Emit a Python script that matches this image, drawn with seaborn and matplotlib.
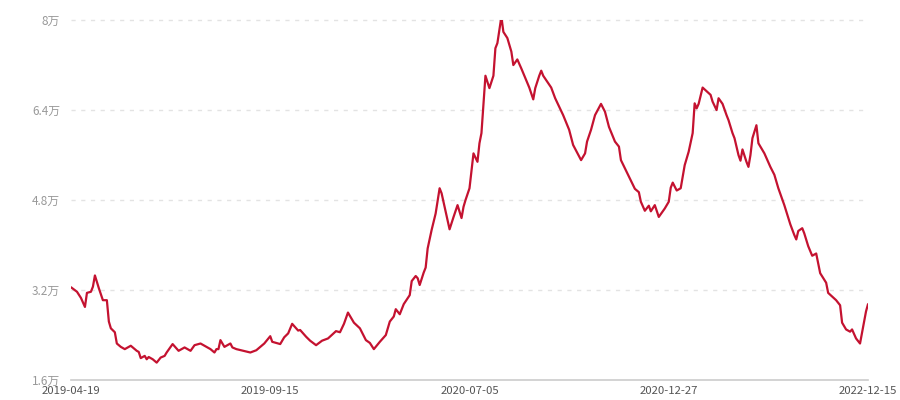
import pandas as pd
import matplotlib
matplotlib.use("Agg")
import matplotlib.pyplot as plt
from matplotlib.ticker import FuncFormatter
import seaborn as sns

# category index of each point (axis runs 0..400) and value in 万
idx = [0, 3, 5, 7, 8, 10, 11, 12, 14, 16, 18, 19, 20, 22, 23, 25, 27, 30, 31, 33,
       34, 35, 37, 38, 39, 41, 43, 45, 47, 48, 50, 51, 53, 54, 57, 60, 62, 65, 67, 70,
       72, 73, 74, 75, 77, 78, 80, 81, 83, 90, 93, 97, 100, 101, 105, 107, 109, 111, 114, 115,
       118, 120, 123, 126, 129, 133, 135, 137, 139, 142, 145, 148, 150, 152, 155, 158, 160, 162, 163, 165,
       167, 170, 171, 173, 174, 175, 177, 178, 179, 181, 183, 185, 186, 190, 192, 194, 196, 197, 198, 200,
       202, 204, 205, 206, 208, 210, 212, 213, 214, 216, 217, 219, 221, 222, 224, 226, 230, 232, 233, 235,
       236, 237, 241, 243, 247, 250, 252, 256, 258, 259, 261, 263, 266, 268, 270, 273, 275, 276, 280, 283,
       285, 286, 288, 290, 291, 293, 295, 298, 300, 301, 302, 304, 306, 308, 310, 312, 313, 314, 315, 317,
       321, 322, 324, 325, 327, 329, 330, 332, 333, 335, 336, 337, 339, 340, 341, 342, 344, 345, 348, 351,
       353, 355, 358, 360, 361, 363, 364, 365, 367, 368, 370, 372, 374, 376, 379, 380, 384, 386, 387, 389,
       391, 392, 394, 396, 399, 400]
price = [3.24, 3.16, 3.05, 2.89, 3.14, 3.16, 3.25, 3.45, 3.22, 3.01, 3.01, 2.63, 2.51, 2.44, 2.24, 2.18, 2.14, 2.20, 2.17, 2.11,
         2.09, 1.98, 2.02, 1.96, 2.00, 1.96, 1.90, 1.99, 2.02, 2.08, 2.18, 2.23, 2.15, 2.11, 2.17, 2.11, 2.21, 2.24, 2.20, 2.14,
         2.08, 2.14, 2.14, 2.30, 2.18, 2.20, 2.24, 2.17, 2.14, 2.08, 2.12, 2.24, 2.37, 2.27, 2.23, 2.35, 2.42, 2.59, 2.47, 2.48,
         2.36, 2.29, 2.21, 2.29, 2.33, 2.46, 2.44, 2.59, 2.79, 2.61, 2.51, 2.30, 2.25, 2.14, 2.27, 2.39, 2.63, 2.72, 2.85, 2.76,
         2.94, 3.10, 3.35, 3.44, 3.40, 3.28, 3.50, 3.59, 3.93, 4.26, 4.55, 5.00, 4.91, 4.27, 4.49, 4.70, 4.47, 4.67, 4.79, 5.00,
         5.62, 5.47, 5.80, 5.98, 7.00, 6.78, 7.00, 7.49, 7.58, 8.05, 7.78, 7.67, 7.43, 7.19, 7.29, 7.13, 6.79, 6.58, 6.78, 7.00,
         7.09, 7.00, 6.79, 6.60, 6.30, 6.04, 5.77, 5.50, 5.62, 5.83, 6.04, 6.30, 6.50, 6.36, 6.09, 5.83, 5.74, 5.50, 5.21, 4.99,
         4.93, 4.76, 4.60, 4.69, 4.59, 4.70, 4.49, 4.64, 4.76, 5.01, 5.10, 4.96, 5.00, 5.41, 5.65, 5.98, 6.51, 6.42, 6.50, 6.79,
         6.66, 6.54, 6.39, 6.60, 6.50, 6.30, 6.21, 5.98, 5.89, 5.59, 5.49, 5.69, 5.47, 5.38, 5.59, 5.89, 6.12, 5.80, 5.62, 5.38,
         5.24, 5.00, 4.70, 4.47, 4.36, 4.17, 4.09, 4.24, 4.29, 4.20, 3.97, 3.80, 3.84, 3.49, 3.32, 3.14, 3.01, 2.92, 2.61, 2.49,
         2.45, 2.49, 2.33, 2.24, 2.81, 2.94]

tick_pos = [0, 100, 200, 300, 400]
tick_labels = ["2019-04-19", "2019-09-15", "2020-07-05", "2020-12-27", "2022-12-15"]
y_ticks = [1.6, 3.2, 4.8, 6.4, 8.0]

df = pd.DataFrame({"idx": idx, "price": price})

sns.set_style("white")
plt.rcParams["font.family"] = ["Noto Sans CJK SC", "DejaVu Sans"]

fig = plt.figure(figsize=(9, 4), dpi=100)
ax = fig.add_axes([71 / 900, 1 - 379.5 / 400, (868 - 71) / 900, 360 / 400])

sns.lineplot(data=df, x="idx", y="price", ax=ax, color="#c41230", linewidth=1.6)

ax.set_xlim(0, 400)
ax.set_ylim(1.6, 8.0)
ax.set_yticks(y_ticks)
ax.yaxis.set_major_formatter(FuncFormatter(lambda v, p: f"{v:g}万"))
ax.set_xticks(tick_pos)
ax.set_xticklabels(tick_labels)
ax.set_xlabel("")
ax.set_ylabel("")

# dashed grid lines
for y in y_ticks[1:]:
    ax.axhline(y, color="#e3e3e3", linestyle=(0, (3, 4)), linewidth=1, zorder=0, clip_on=False)

for s in ["top", "right", "left"]:
    ax.spines[s].set_visible(False)
ax.spines["bottom"].set_color("#cccccc")
ax.spines["bottom"].set_linewidth(1.2)

ax.tick_params(axis="y", length=0, pad=8, labelsize=8.5, labelcolor="#999999")
ax.tick_params(axis="x", length=4, width=1, color="#cccccc", pad=1, labelsize=8.2, labelcolor="#555555")

plt.savefig("out.png", dpi=100)
plt.close()
